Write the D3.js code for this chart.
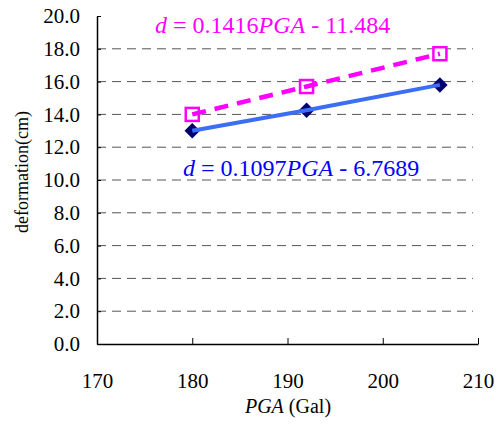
<!DOCTYPE html>
<html><head><meta charset="utf-8">
<script src="https://cdn.jsdelivr.net/npm/d3@7"></script>
<style>
svg text, svg tspan { font-family: 'Times New Roman', 'Liberation Serif', Tinos, serif !important; }
</style>
</head><body style="margin:0"><svg id="c" width="501" height="427"></svg>
<script>
const pga = [180, 192, 206];
const seriesBlue = [13.0, 14.25, 15.8];
const seriesPink = [14.0, 15.7, 17.7];
const xTicks = [170, 180, 190, 200, 210];
const yTicks = [0, 2, 4, 6, 8, 10, 12, 14, 16, 18, 20];
const eqPink = ["d", " = 0.1416", "PGA", " - 11.484"];
const eqBlue = ["d", " = 0.1097", "PGA", " - 6.7689"];

const FONT = "Times New Roman";
const svg = d3.select("#c");
const L = 97, R = 478, T = 16, B = 344;
const x = d3.scaleLinear().domain([170, 210]).range([L, R]);
const y = d3.scaleLinear().domain([0, 20]).range([B, T]);

// gridlines
svg.append("g").selectAll("line").data(yTicks.filter(v => v > 0 && v < 20)).join("line")
  .attr("x1", L).attr("x2", 473).attr("y1", d => y(d)).attr("y2", d => y(d))
  .attr("stroke", "#555").attr("stroke-width", 1).attr("stroke-dasharray", "9,6");

// axes
const xa = svg.append("g").attr("transform", `translate(0,${B})`)
  .call(d3.axisBottom(x).tickValues(xTicks).tickSizeInner(-6).tickSizeOuter(0).tickPadding(29).tickFormat(d3.format("d")));
xa.attr("font-family", FONT).attr("font-size", 21);
xa.select(".domain").attr("stroke", "#000").attr("stroke-width", 1.5);
xa.selectAll(".tick line").attr("stroke", "#000");
xa.selectAll("text").attr("fill", "#000");
const ya = svg.append("g").attr("transform", `translate(${L},0)`)
  .call(d3.axisLeft(y).tickValues(yTicks).tickSizeInner(-4).tickSizeOuter(0).tickPadding(17).tickFormat(d3.format(".1f")));
ya.attr("font-family", FONT).attr("font-size", 21);
ya.select(".domain").attr("stroke", "#000").attr("stroke-width", 1.5);
ya.selectAll(".tick line").attr("stroke", "#000");
ya.selectAll("text").attr("fill", "#000");

// markers
const blueData = pga.map((p, i) => [p, seriesBlue[i]]);
const pinkData = pga.map((p, i) => [p, seriesPink[i]]);
svg.append("g").selectAll("path").data(blueData).join("path")
  .attr("d", d3.symbol(d3.symbolSquare, 120))
  .attr("transform", d => `translate(${x(d[0])},${y(d[1])}) rotate(45)`)
  .attr("fill", "#00006e");
svg.append("g").selectAll("rect").data(pinkData).join("rect")
  .attr("x", d => x(d[0]) - 6.5).attr("y", d => y(d[1]) - 6.5).attr("width", 13).attr("height", 13)
  .attr("fill", "#fff").attr("stroke", "#ff00ff").attr("stroke-width", 2.5);

// lines
const line = d3.line().x(d => x(d[0])).y(d => y(d[1]));
svg.append("path").datum(pinkData).attr("d", line).attr("fill", "none")
  .attr("stroke", "#ff00ff").attr("stroke-width", 4.5).attr("stroke-dasharray", "14,9");
svg.append("path").datum(blueData).attr("d", line).attr("fill", "none")
  .attr("stroke", "#3b6ef5").attr("stroke-width", 4);

// equations
function eq(parts, px, py, color) {
  const t = svg.append("text").attr("x", px).attr("y", py).attr("fill", color)
    .attr("font-family", FONT).attr("font-size", 24);
  parts.forEach((s, i) => {
    t.append("tspan").text(s.replace(/ /g, "\u00a0")).attr("font-style", i % 2 === 0 ? "italic" : "normal");
  });
}
eq(eqPink, 155, 33, "#ff00ff");
eq(eqBlue, 183, 176, "#0000ff");

// axis titles
svg.append("text").attr("transform", "translate(28,172) rotate(-90)").attr("text-anchor", "middle")
  .attr("font-family", FONT).attr("font-size", 18).text("deformation(cm)");
const xt = svg.append("text").attr("x", 288).attr("y", 413).attr("text-anchor", "middle")
  .attr("font-family", FONT).attr("font-size", 20);
xt.append("tspan").attr("font-style", "italic").text("PGA");
xt.append("tspan").text("\u00a0(Gal)");
</script></body></html>
